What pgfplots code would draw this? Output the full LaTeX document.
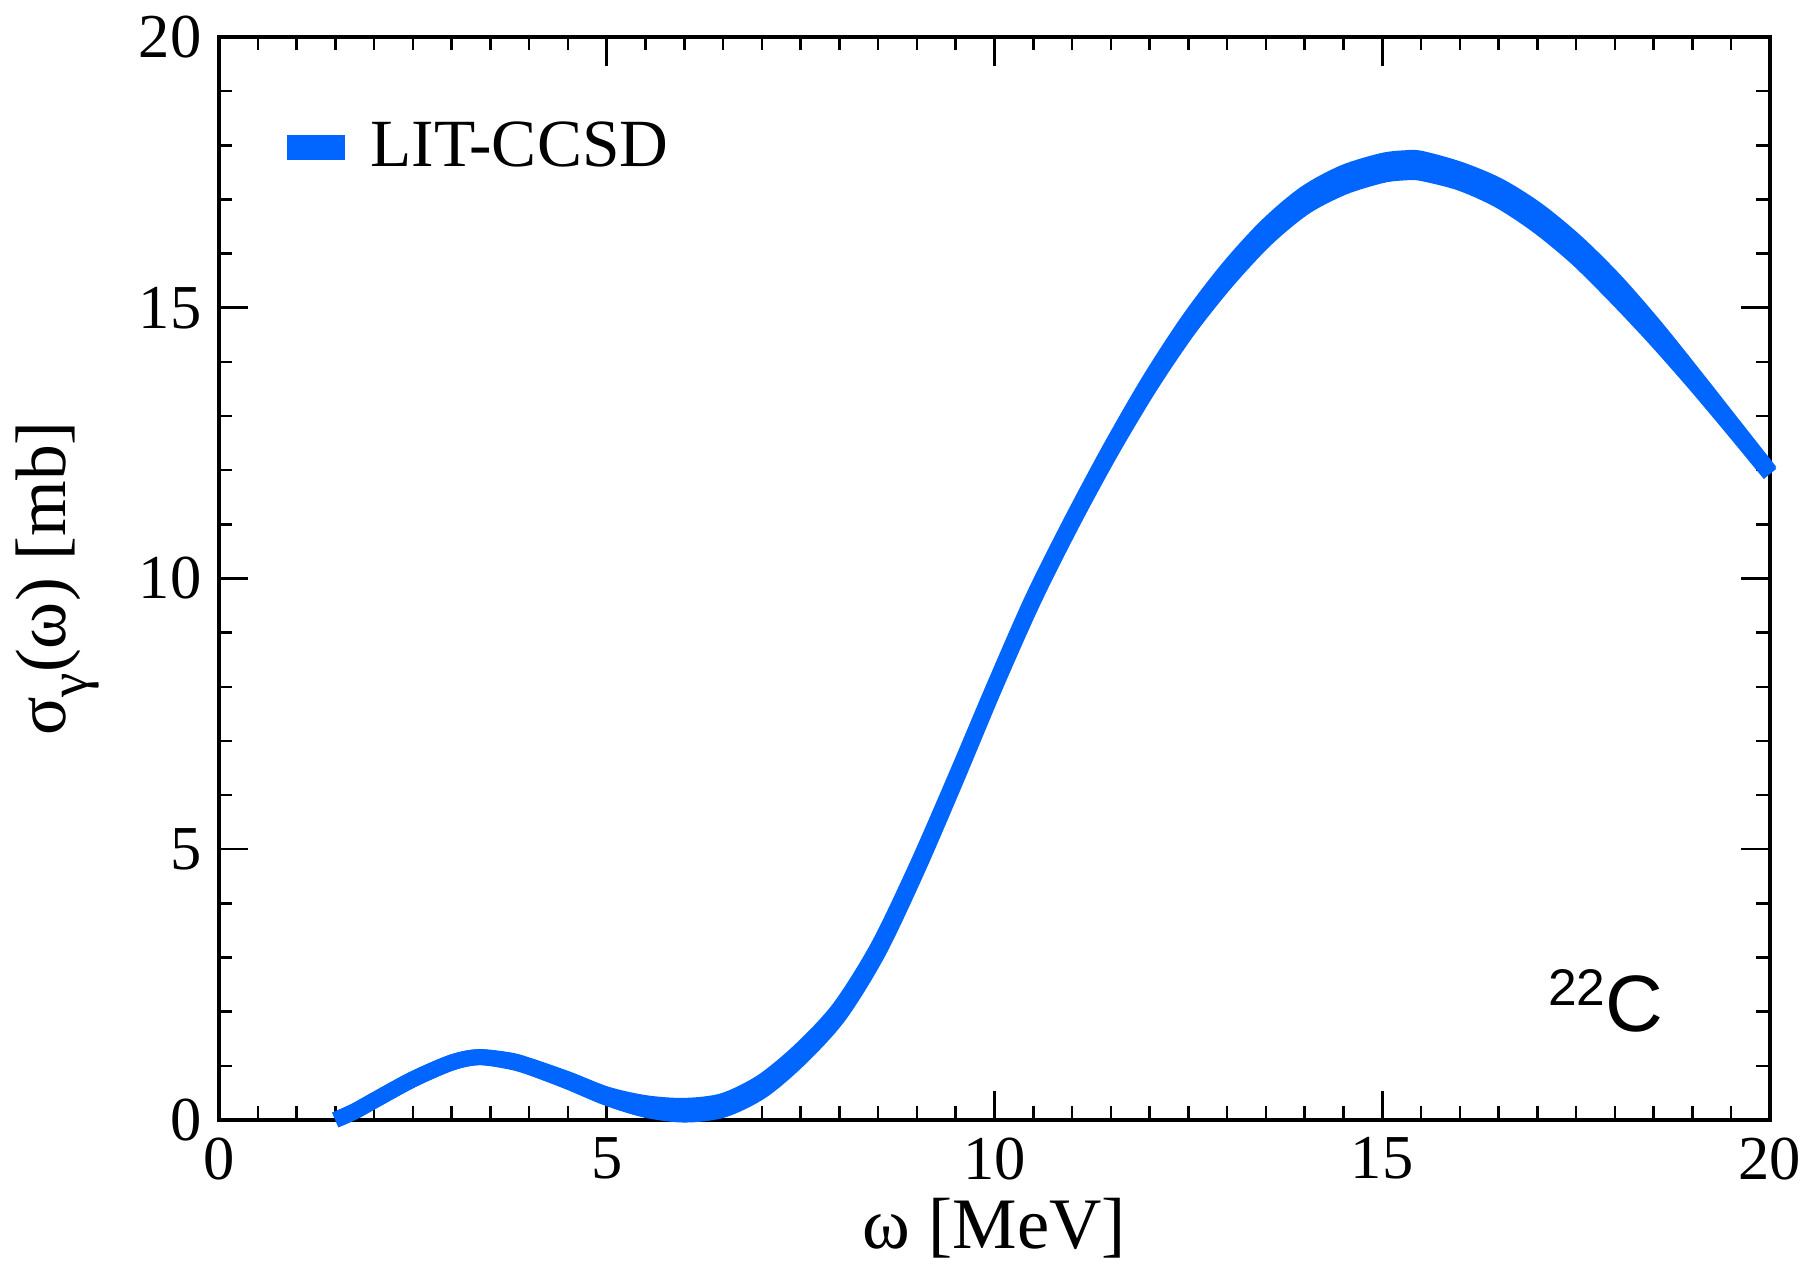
\documentclass[border=0pt]{standalone}
\usepackage{fontspec}
\setmainfont{Liberation Serif}
\newfontfamily\helv{Liberation Sans}
\usepackage{pgfplots}
\usepackage{pgfplotstable}
\pgfplotsset{compat=1.18}
\usepgfplotslibrary{fillbetween}
\definecolor{litblue}{RGB}{0,102,255}

\pgfplotstableread{
w     up     lo
1.50  0.00   0.00
1.75  0.16   0.16
2.00  0.36   0.36
2.50  0.75   0.75
3.00  1.06   1.06
3.35  1.16   1.16
3.75  1.10   1.08
4.00  1.00   0.98
4.50  0.75   0.71
5.00  0.47   0.41
5.50  0.31   0.19
6.00  0.26   0.10
6.50  0.35   0.19
7.00  0.70   0.54
7.50  1.29   1.15
8.00  2.06   1.94
8.50  3.20   3.10
9.00  4.69   4.61
9.50  6.33   6.27
10.00 8.02   7.98
10.50 9.65   9.59
11.00 11.08  11.02
11.50 12.42  12.34
12.00 13.66  13.54
12.50 14.76  14.60
13.00 15.70  15.50
13.50 16.49  16.27
14.00 17.10  16.86
14.50 17.49  17.23
15.00 17.71  17.45
15.30 17.76  17.50
15.50 17.75  17.49
16.00 17.55  17.31
16.50 17.25  16.99
17.00 16.80  16.52
17.50 16.21  15.93
18.00 15.50  15.22
18.50 14.68  14.46
19.00 13.79  13.65
19.50 12.88  12.80
20.00 11.97  11.93
}\band

\begin{document}
\begin{tikzpicture}
\begin{axis}[
  scale only axis,
  width=310.2pt, height=216.6pt,
  xmin=0, xmax=20, ymin=0, ymax=20,
  xtick={0,5,10,15,20}, ytick={0,5,10,15,20},
  minor x tick num=9, minor y tick num=4,
  tick align=inside,
  major tick length=5.8pt, minor tick length=2.7pt,
  every tick/.style={black, line width=0.5pt},
  axis line style={black, line width=0.65pt},
  tick label style={font=\fontsize{12.5}{14}\selectfont},
  /pgf/number format/assume math mode=true,
  xlabel={ω [MeV]},
  ylabel={σ\raisebox{-4.5pt}{\fontsize{11}{12}\selectfont γ}(ω) [mb]},
  xlabel style={font=\fontsize{14.5}{16}\selectfont, at={(axis description cs:0.5,-0.1)}, anchor=center},
  ylabel style={font=\fontsize{14.3}{16}\selectfont, at={(axis description cs:-0.104,0.5)}, anchor=center},
  clip=false,
  legend style={draw=none, fill=none, at={(axis description cs:0.043,0.898)}, anchor=west,
    font=\fontsize{13.5}{15}\selectfont, inner sep=0pt,
    /tikz/every odd column/.append style={column sep=3.2pt}},
  legend cell align=left,
]
\addplot[name path=U, litblue, line width=3.2pt, smooth, forget plot] table[x=w, y=up] {\band};
\addplot[name path=L, litblue, line width=3.2pt, smooth, forget plot] table[x=w, y=lo] {\band};
\addplot[litblue, fill=litblue, draw=none, forget plot] fill between[of=U and L];
\addlegendimage{litblue, legend image code/.code={\fill[litblue] (0pt,-2.3pt) rectangle (11.2pt,2.3pt);}}
\addlegendentry{LIT-CCSD}
\node[font=\helv\fontsize{16}{18}\selectfont, anchor=base] at (axis cs:17.88,1.64) {\raisebox{5.2pt}{\fontsize{10.3}{11}\selectfont 22}C};
\coordinate (LL) at (rel axis cs:0,0);
\coordinate (UR) at (rel axis cs:1,1);
\end{axis}
\pgfresetboundingbox
\path ([shift={(-43.8pt,-29pt)}]LL) rectangle ([shift={(8pt,7.4pt)}]UR);
\end{tikzpicture}
\end{document}
